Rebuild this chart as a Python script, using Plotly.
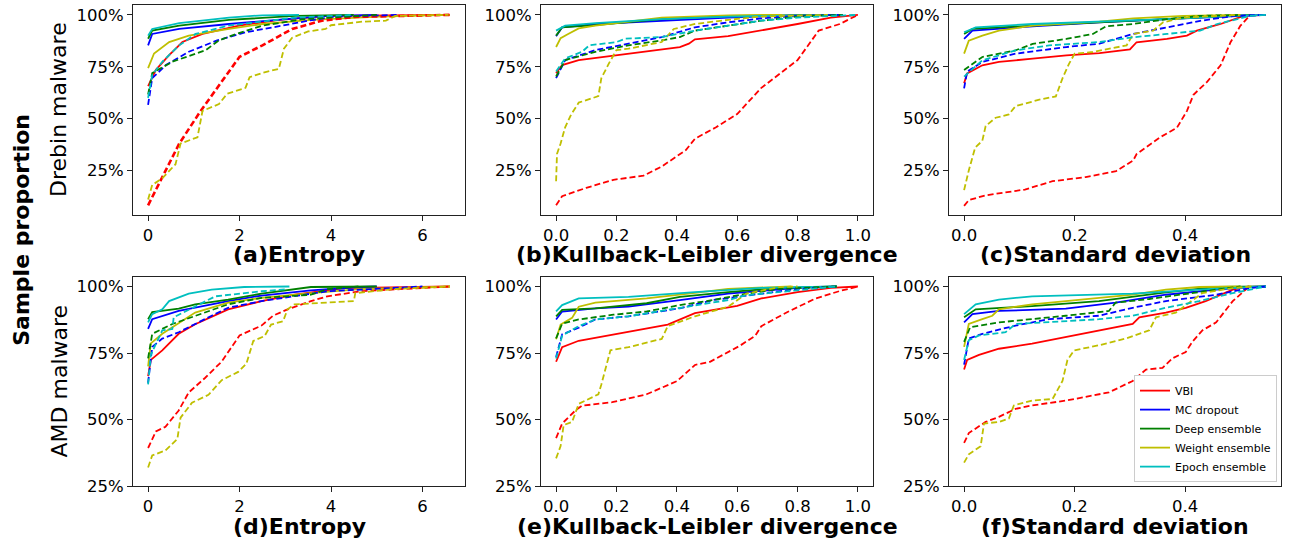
import plotly.graph_objects as go

methods = ["VBI", "MC dropout", "Deep ensemble", "Weight ensemble", "Epoch ensemble"]
colors = ["#ff0000", "#0000ff", "#008000", "#bfbf00", "#00bfbf"]

titles = ["(a)Entropy", "(b)Kullback-Leibler divergence", "(c)Standard deviation",
          "(d)Entropy", "(e)Kullback-Leibler divergence", "(f)Standard deviation"]
row_labels = ["Drebin malware", "AMD malware"]
y_tick_vals = [25, 50, 75, 100]
y_tick_text = ["25%", "50%", "75%", "100%"]

# ---------- (a) Entropy, Drebin ----------
a_solid = {
    "VBI": ([0, 0.17, 0.46, 0.75, 1.19, 1.99, 2.87, 3.95, 6.6],
            [65.6, 73.5, 80.6, 86.9, 90.8, 94.8, 97.6, 99.5, 100]),
    "MC dropout": ([0, 0.09, 0.68, 1.77, 3.22, 3.95, 5.0],
                   [85.3, 90.8, 93.2, 95.6, 98.3, 99.5, 100]),
    "Deep ensemble": ([0, 0.09, 0.68, 1.77, 3.22, 4.5],
                      [88.5, 92.4, 94.8, 97.6, 99.5, 100]),
    "Weight ensemble": ([0, 0.13, 0.46, 0.89, 1.77, 2.5, 3.58, 5.04, 6.6],
                        [74.3, 81.4, 86.9, 90, 93.2, 95.6, 97.6, 99.2, 100]),
    "Epoch ensemble": ([0, 0.09, 0.68, 1.77, 2.5, 3.3],
                       [90, 93.2, 96, 98.7, 99.8, 100]),
}
a_dashed = {
    "VBI": ([0, 0.35, 0.68, 1.15, 2.0, 2.5, 3.15, 3.8, 4.5, 6.6],
            [8.2, 23.3, 37.9, 53.7, 79.8, 85.3, 93.2, 97.2, 99, 100]),
    "MC dropout": ([0, 0.09, 0.39, 0.89, 1.51, 2.13, 2.93, 3.5, 4.1, 5.5],
                   [56.6, 69.5, 75.8, 82.2, 87.7, 91.6, 94.8, 97.2, 99.2, 100]),
    "Deep ensemble": ([0, 0.09, 0.53, 1.26, 1.55, 1.93, 2.5, 3.37, 5.0],
                      [61.6, 71.9, 77.4, 83, 87.7, 90.8, 94.8, 97.9, 100]),
    "Weight ensemble": ([0, 0.09, 0.3, 0.6, 0.71, 1.08, 1.19, 1.55, 1.73, 2.13, 2.22, 2.5, 2.86, 2.97,
                         3.15, 3.5, 3.88, 4.0, 4.68, 5.2, 5.4, 6.57],
                        [11, 18, 21, 28, 38, 41, 53.7, 57, 62, 64.8, 70, 72, 74, 83.7,
                         89, 92, 93.2, 95, 96.7, 97.2, 99.5, 100]),
    "Epoch ensemble": ([0, 0.09, 0.31, 0.68, 1.04, 1.75, 3.22, 4.5],
                       [60, 71, 77.4, 85.3, 90.8, 94.8, 98.7, 100]),
}

# ---------- (b) KL divergence, Drebin ----------
b_solid = {
    "VBI": ([0, 0.02, 0.075, 0.19, 0.3, 0.41, 0.44, 0.46, 0.57, 0.68, 0.8, 0.91, 1.0],
            [71.9, 75.8, 78.2, 80.3, 82.2, 84.5, 86.1, 88.2, 89.7, 92.4, 95.6, 98.7, 100]),
    "MC dropout": ([0, 0.02, 0.13, 0.35, 0.57, 0.8, 0.95],
                   [89.7, 94, 95.6, 97.2, 98.7, 99.8, 100]),
    "Deep ensemble": ([0, 0.02, 0.13, 0.35, 0.57, 0.9],
                      [90, 94, 95.1, 97.9, 99.5, 100]),
    "Weight ensemble": ([0, 0.015, 0.04, 0.075, 0.13, 0.35, 0.57, 0.75],
                        [84.5, 88.8, 90.8, 93.5, 94.8, 98.7, 99.8, 100]),
    "Epoch ensemble": ([0, 0.03, 0.13, 0.35, 0.57, 0.95],
                       [92.4, 94.8, 96, 97.9, 99.2, 100]),
}
b_dashed = {
    "VBI": ([0, 0.02, 0.1, 0.19, 0.29, 0.35, 0.43, 0.46, 0.53, 0.6, 0.68, 0.8, 0.87, 0.94, 1.0],
            [8.2, 12.6, 16.6, 20.5, 22.5, 26.9, 34.8, 40.3, 45.8, 52.2, 64.8, 78.2, 92.4, 95.6, 100]),
    "MC dropout": ([0, 0.03, 0.13, 0.24, 0.35, 0.46, 0.57, 0.68, 0.8, 0.95],
                   [69.5, 78.2, 83, 86.1, 89.3, 94, 96.4, 98.3, 99.5, 100]),
    "Deep ensemble": ([0, 0.03, 0.13, 0.24, 0.35, 0.41, 0.46, 0.57, 0.68, 0.8, 0.95],
                      [70.3, 78.2, 82.2, 85.3, 87.7, 89.3, 92.4, 94.8, 97.2, 99.2, 100]),
    "Weight ensemble": ([0, 0.003, 0.015, 0.03, 0.05, 0.075, 0.14, 0.15, 0.175, 0.2, 0.24, 0.35,
                         0.39, 0.46, 0.57, 0.68, 0.9],
                        [19.8, 33, 38, 45.8, 52, 57.7, 60.8, 69.5, 76.6, 83, 83.7, 86.9,
                         93.2, 95.6, 97.6, 99.2, 100]),
    "Epoch ensemble": ([0, 0.03, 0.086, 0.11, 0.2, 0.23, 0.35, 0.46, 0.57, 0.68, 0.8, 1.0],
                       [72.7, 79, 82.2, 85.3, 86.9, 88.5, 89.3, 92.4, 94.8, 97.2, 98.7, 100]),
}

# ---------- (c) Standard deviation, Drebin ----------
c_solid = {
    "VBI": ([0, 0.0055, 0.033, 0.063, 0.124, 0.185, 0.245, 0.3, 0.312, 0.367, 0.403, 0.421, 0.464, 0.506, 0.546],
            [67, 71.8, 75.7, 77.3, 78.9, 80.5, 81.6, 83.4, 86.8, 88.4, 90, 92.4, 95.6, 99.5, 100]),
    "MC dropout": ([0, 0.015, 0.124, 0.245, 0.367, 0.488, 0.546],
                   [88.4, 92.4, 94.5, 96.4, 97.9, 99.5, 100]),
    "Deep ensemble": ([0, 0.015, 0.124, 0.245, 0.367, 0.488, 0.52],
                      [90.8, 93.2, 94.8, 96.4, 98.3, 99.8, 100]),
    "Weight ensemble": ([0, 0.0085, 0.033, 0.063, 0.124, 0.245, 0.306, 0.397, 0.5],
                        [81.3, 87.6, 90, 92.4, 94.8, 96.7, 98.3, 99.5, 100]),
    "Epoch ensemble": ([0, 0.021, 0.124, 0.245, 0.367, 0.488, 0.546],
                       [91.6, 94, 95.6, 96.7, 97.9, 99.5, 100]),
}
c_dashed = {
    "VBI": ([0, 0.0085, 0.039, 0.11, 0.16, 0.22, 0.275, 0.306, 0.312, 0.354, 0.385, 0.403, 0.415,
             0.44, 0.464, 0.482, 0.5, 0.518],
            [7.9, 10.7, 13, 15.8, 19.8, 21.8, 24.7, 29.8, 32.9, 40.9, 45.6, 53.6, 61.5,
             67.8, 75.7, 86.8, 94.8, 100]),
    "MC dropout": ([0, 0.0055, 0.033, 0.093, 0.185, 0.245, 0.306, 0.367, 0.427, 0.488, 0.546],
                   [64.6, 72.6, 77.3, 81.3, 84.5, 86.1, 90.8, 94, 97.1, 99.5, 100]),
    "Deep ensemble": ([0, 0.033, 0.093, 0.124, 0.185, 0.233, 0.257, 0.306, 0.367, 0.427, 0.5],
                      [73.4, 79.7, 82.9, 86, 88.4, 90.8, 94.5, 95.6, 97.9, 99.5, 100]),
    "Weight ensemble": ([0, 0.0085, 0.02, 0.033, 0.039, 0.057, 0.081, 0.093, 0.136, 0.166, 0.178,
                         0.19, 0.2, 0.233, 0.294, 0.306, 0.342, 0.36, 0.397, 0.5],
                        [15.5, 25, 36, 39.3, 46.4, 50.4, 52, 56, 59.1, 60.7, 69.4,
                         76.5, 81.3, 82.1, 85.3, 90.8, 92.4, 96.4, 98.7, 100]),
    "Epoch ensemble": ([0, 0.033, 0.093, 0.154, 0.245, 0.306, 0.367, 0.427, 0.458, 0.518, 0.546],
                       [70.2, 78.1, 82.9, 85.3, 86.9, 89.2, 90.8, 92.4, 95.6, 99.5, 100]),
}

# ---------- (d) Entropy, AMD ----------
d_solid = {
    "VBI": ([0, 0.06, 0.31, 0.67, 1.03, 1.75, 2.48, 3.2, 4.28, 6.6],
            [66.3, 72.4, 76, 82.2, 85.8, 91.4, 94.5, 96.9, 99.4, 100]),
    "MC dropout": ([0, 0.09, 0.67, 1.75, 2.48, 3.56, 4.64, 5.0],
                   [84.1, 87.7, 90.8, 94.5, 96.6, 98.5, 99.8, 100]),
    "Deep ensemble": ([0, 0.09, 0.67, 1.03, 1.75, 2.48, 3.56, 5.0],
                      [87.7, 90.4, 91.7, 93.3, 95.1, 97.3, 99.8, 100]),
    "Weight ensemble": ([0, 0.06, 0.31, 1.03, 1.75, 2.48, 3.56, 4.64, 6.6],
                        [70, 78.6, 82.2, 90.2, 93.9, 95.7, 97.5, 99, 100]),
    "Epoch ensemble": ([0, 0.09, 0.31, 0.46, 0.89, 1.39, 2.1, 3.09],
                       [86.5, 89.6, 91.4, 94.5, 97.3, 98.8, 99.8, 100]),
}
d_dashed = {
    "VBI": ([0, 0.17, 0.38, 0.67, 0.89, 1.25, 1.61, 2.0, 2.48, 2.73, 3.05, 3.56, 3.92, 4.64, 6.6],
            [39.3, 45.5, 47.3, 53.4, 60.2, 65.7, 71.8, 81.6, 85.3, 89, 91.4, 94.5, 96.3, 98.2, 100]),
    "MC dropout": ([0, 0.09, 0.31, 0.67, 1.39, 1.75, 2.48, 3.2, 3.92, 6.0],
                   [63.8, 77.3, 80.4, 82.8, 89, 92, 94.5, 96.3, 98.2, 100]),
    "Deep ensemble": ([0, 0.09, 0.53, 1.03, 1.75, 2.48, 3.56, 3.92, 4.6],
                      [73, 82.2, 85.9, 89, 93.3, 95.7, 96.9, 99, 100]),
    "Weight ensemble": ([0, 0.09, 0.38, 0.64, 0.71, 0.96, 1.32, 1.61, 1.97, 2.15, 2.3, 2.55, 2.69,
                         2.95, 3.05, 3.2, 4.5, 4.53, 5.36, 6.6],
                        [32, 36.5, 38.4, 42.7, 50.7, 56.3, 59.3, 64.8, 67.9, 71, 79.5, 81.4, 85.7,
                         86.9, 91.4, 93.3, 94.5, 97.5, 99, 100]),
    "Epoch ensemble": ([0, 0.06, 0.31, 0.53, 0.56, 1.03, 1.47, 2.48, 3.05],
                       [63.2, 74.3, 83.5, 84, 88.4, 92.6, 96.3, 98.2, 99]),
}

# ---------- (e) KL divergence, AMD ----------
e_solid = {
    "VBI": ([0, 0.02, 0.075, 0.22, 0.37, 0.46, 0.6, 0.68, 0.8, 0.91, 1.0],
            [71.7, 77.2, 79.6, 82.7, 85.7, 90, 92.7, 95.5, 97.9, 99.5, 100]),
    "MC dropout": ([0, 0.02, 0.13, 0.24, 0.41, 0.57, 0.8, 0.93],
                   [87.6, 90.6, 91.8, 92.4, 94.9, 97.3, 99.5, 100]),
    "Deep ensemble": ([0, 0.02, 0.13, 0.3, 0.41, 0.57, 0.74, 0.93],
                      [88.8, 91.2, 91.8, 93.7, 96.1, 97.9, 99.5, 100]),
    "Weight ensemble": ([0, 0.015, 0.053, 0.075, 0.13, 0.3, 0.46, 0.57, 0.78],
                        [80.2, 85.7, 88.2, 92.4, 93.9, 95.5, 97.6, 99.1, 100]),
    "Epoch ensemble": ([0, 0.02, 0.075, 0.24, 0.46, 0.68, 0.93],
                       [90.6, 93, 95.5, 96.1, 97.9, 99.5, 100]),
}
e_dashed = {
    "VBI": ([0, 0.02, 0.064, 0.086, 0.186, 0.3, 0.4, 0.46, 0.51, 0.61, 0.66, 0.68, 0.77, 0.86, 0.94, 1.0],
            [43, 48.5, 53.4, 55.2, 56.5, 59.5, 64.4, 70.5, 71.7, 77.8, 81.5, 85.1, 90.6, 95.5, 98.3, 100]),
    "MC dropout": ([0, 0.02, 0.075, 0.13, 0.24, 0.41, 0.52, 0.68, 0.8, 0.93],
                   [73.5, 82, 84.5, 87.6, 88.8, 91.8, 94.9, 97.3, 99.1, 100]),
    "Deep ensemble": ([0, 0.02, 0.075, 0.19, 0.3, 0.41, 0.52, 0.63, 0.74, 0.93],
                      [80.5, 86, 87.6, 89.4, 90.6, 93, 94.9, 97.3, 99.1, 100]),
    "Weight ensemble": ([0, 0.015, 0.025, 0.053, 0.075, 0.14, 0.15, 0.18, 0.24, 0.35, 0.37, 0.46,
                         0.57, 0.63, 0.74, 0.8],
                        [35.4, 40, 47.9, 49.1, 55.9, 59.5, 63.2, 76, 77.2, 80.3, 85.1, 88.8,
                         92.4, 97.3, 99.8, 100]),
    "Epoch ensemble": ([0, 0.02, 0.075, 0.13, 0.24, 0.41, 0.57, 0.63, 0.8, 0.93],
                       [72.9, 81.5, 85.1, 87.6, 88.8, 91.8, 94.9, 96.7, 98.5, 100]),
}

# ---------- (f) Standard deviation, AMD ----------
f_solid = {
    "VBI": ([0, 0.0055, 0.027, 0.063, 0.123, 0.184, 0.244, 0.305, 0.317, 0.365, 0.401, 0.437, 0.486, 0.516],
            [68.8, 72.4, 74.3, 76.6, 78.5, 81, 83.5, 85.9, 88.4, 90.2, 92, 94.5, 98.8, 100]),
    "MC dropout": ([0, 0.015, 0.063, 0.184, 0.274, 0.365, 0.456, 0.516, 0.546],
                   [86.5, 89.6, 90.8, 91.7, 93.9, 96.9, 98.8, 99.8, 100]),
    "Deep ensemble": ([0, 0.021, 0.123, 0.244, 0.365, 0.456, 0.546],
                      [88.4, 91.4, 92.6, 94.5, 97.8, 99.8, 100]),
    "Weight ensemble": ([0, 0.0085, 0.033, 0.051, 0.063, 0.123, 0.184, 0.305, 0.365, 0.425, 0.5],
                        [77.3, 85.9, 87.7, 89, 91.4, 93.3, 94.5, 96.9, 98.8, 99.8, 100]),
    "Epoch ensemble": ([0, 0.021, 0.063, 0.123, 0.305, 0.425, 0.546],
                       [89.6, 93.3, 95.1, 96.3, 97.3, 98.8, 100]),
}
f_dashed = {
    "VBI": ([0, 0.0085, 0.039, 0.063, 0.093, 0.123, 0.184, 0.262, 0.305, 0.329, 0.359, 0.377, 0.401,
             0.413, 0.431, 0.456, 0.486, 0.516],
            [41.2, 44.9, 49.1, 51, 54, 55.3, 57.1, 60.2, 64.5, 68.8, 69.4, 73, 75.4,
             79.2, 83.5, 86.5, 94.5, 100]),
    "MC dropout": ([0, 0.0085, 0.033, 0.093, 0.153, 0.244, 0.305, 0.365, 0.456, 0.516, 0.546],
                   [70.6, 80.4, 82.2, 85.3, 87.7, 89, 92, 94.5, 96.9, 99.4, 100]),
    "Deep ensemble": ([0, 0.011, 0.063, 0.123, 0.184, 0.262, 0.274, 0.335, 0.395, 0.456, 0.5],
                      [79.2, 84.7, 86.5, 87.7, 89, 90.8, 93.9, 95.3, 96.9, 98.8, 100]),
    "Weight ensemble": ([0, 0.0085, 0.03, 0.036, 0.063, 0.081, 0.09, 0.123, 0.16, 0.178, 0.187, 0.199,
                         0.244, 0.292, 0.335, 0.347, 0.383, 0.407, 0.431, 0.486, 0.52],
                        [33.8, 36.9, 40, 48.5, 49.1, 50.4, 55.3, 57.1, 57.7, 64.5, 72.4, 76,
                         77.9, 80.4, 83.5, 88.4, 90.2, 93.9, 97.5, 99.4, 100]),
    "Epoch ensemble": ([0, 0.0085, 0.027, 0.075, 0.093, 0.184, 0.244, 0.305, 0.365, 0.425, 0.486, 0.546],
                       [72.4, 79.8, 81.6, 82.8, 85.9, 87.1, 87.7, 89, 92, 94.5, 97.5, 100]),
}

panels = [(a_solid, a_dashed), (b_solid, b_dashed), (c_solid, c_dashed),
          (d_solid, d_dashed), (e_solid, e_dashed), (f_solid, f_dashed)]

W, H = 1289, 553
FONT = "DejaVu Sans"


def px(xp):
    return xp / W


def py(yp):
    return 1 - yp / H


x_px = [(133, 465), (541, 873), (949, 1281)]
y_px = [(5, 219), (282, 495)]
x_ranges = [[-0.33, 6.93], [-0.05, 1.05], [-0.0273, 0.5733]]
x_dtick = [2, 0.2, 0.2]
x_fmt = ["d", ".1f", ".1f"]
y_ranges = [[3.5, 104.8], [25, 103.6]]

fig = go.Figure()

for i, (solid, dashed) in enumerate(panels):
    r, c = divmod(i, 3)
    n = i + 1
    xa = "x" if n == 1 else f"x{n}"
    ya = "y" if n == 1 else f"y{n}"
    for m, col in zip(methods, colors):
        xs, ys = solid[m]
        fig.add_trace(go.Scatter(x=xs, y=ys, mode="lines", name=m,
                                 line=dict(color=col, width=1.8),
                                 xaxis=xa, yaxis=ya, legendgroup=m,
                                 showlegend=(i == 5)))
    for m, col in zip(methods, colors):
        xs, ys = dashed[m]
        w = 2.6 if (m == "VBI" and i == 0) else 1.8
        fig.add_trace(go.Scatter(x=xs, y=ys, mode="lines", name=m,
                                 line=dict(color=col, width=w, dash="6px,3px"),
                                 xaxis=xa, yaxis=ya, legendgroup=m,
                                 showlegend=False))
    x0, x1 = x_px[c]
    y0, y1 = y_px[r]
    axis_common = dict(showline=True, linecolor="#222", linewidth=1, mirror=True,
                       ticks="outside", ticklen=5, tickwidth=1, tickcolor="#222",
                       showgrid=False, zeroline=False, ticklabeloverflow="allow",
                       tickfont=dict(family=FONT, size=16.5, color="black"))
    fig.layout[("xaxis" if n == 1 else f"xaxis{n}")] = dict(
        domain=[px(x0), px(x1)], anchor=ya, range=x_ranges[c],
        tick0=0, dtick=x_dtick[c], tickformat=x_fmt[c], **axis_common)
    fig.layout[("yaxis" if n == 1 else f"yaxis{n}")] = dict(
        domain=[py(y1), py(y0)], anchor=xa, range=y_ranges[r],
        tickvals=y_tick_vals, ticktext=y_tick_text, **axis_common)
    title_y = 259 if r == 0 else 536
    fig.add_annotation(text=f"<b>{titles[i]}</b>", xref="paper", yref="paper",
                       x=px((x0 + x1) / 2), y=py(title_y), showarrow=False,
                       xanchor="center", yanchor="middle",
                       font=dict(family=FONT, size=22, color="black"))

for r, lab in enumerate(row_labels):
    y0, y1 = y_px[r]
    fig.add_annotation(text=lab, xref="paper", yref="paper", x=px(59),
                       y=py((y0 + y1) / 2), textangle=-90, showarrow=False,
                       xanchor="center", yanchor="middle",
                       font=dict(family=FONT, size=22, color="black"))

fig.add_annotation(text="<b>Sample proportion</b>", xref="paper", yref="paper",
                   x=px(22), y=py(234), textangle=-90, showarrow=False,
                   xanchor="center", yanchor="middle",
                   font=dict(family=FONT, size=22, color="black"))

fig.update_layout(
    width=W, height=H, margin=dict(l=0, r=0, t=0, b=0),
    plot_bgcolor="white", paper_bgcolor="white",
    showlegend=True,
    legend=dict(x=px(1277), y=py(491), xanchor="right", yanchor="bottom",
                bgcolor="white", bordercolor="#cccccc", borderwidth=1,
                font=dict(family=FONT, size=11, color="black"),
                tracegroupgap=0, itemwidth=30),
)

page_fix = ("document.body.style.margin='0px';"
            "document.body.style.overflow='hidden';"
            "document.documentElement.style.overflow='hidden';")
fig.write_html("out.html", post_script=page_fix, config={"displayModeBar": False})
